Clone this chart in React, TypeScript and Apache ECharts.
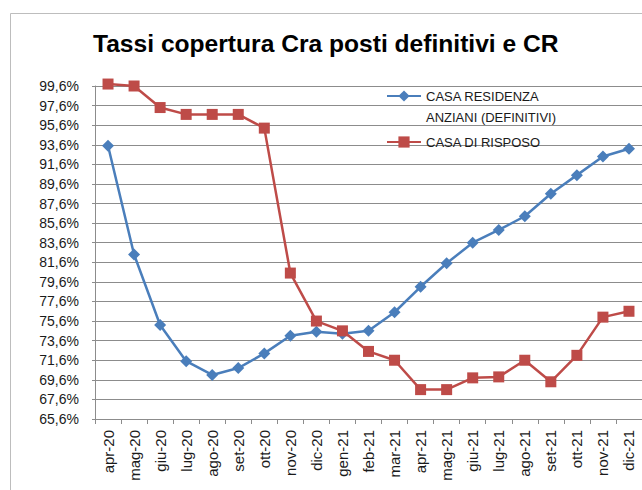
import React, { useEffect, useRef } from "react";
import * as echarts from "echarts";

const categories = [
  "apr-20", "mag-20", "giu-20", "lug-20", "ago-20", "set-20", "ott-20",
  "nov-20", "dic-20", "gen-21", "feb-21", "mar-21", "apr-21", "mag-21",
  "giu-21", "lug-21", "ago-21", "set-21", "ott-21", "nov-21", "dic-21",
];

const craValues = [
  93.5, 82.4, 75.2, 71.5, 70.1, 70.8, 72.3, 74.1, 74.5, 74.3, 74.6,
  76.5, 79.1, 81.5, 83.6, 84.9, 86.3, 88.6, 90.5, 92.4, 93.2,
];

const crValues = [
  99.8, 99.6, 97.4, 96.7, 96.7, 96.7, 95.3, 80.5, 75.6, 74.6, 72.5,
  71.6, 68.6, 68.6, 69.8, 69.9, 71.6, 69.4, 72.1, 76.0, 76.6,
];

const yMin = 65.6;
const yMax = 99.6;
const yStep = 2;

const seriesNames = ["CASA RESIDENZA\nANZIANI (DEFINITIVI)", "CASA DI RISPOSO"];
const titleText = "Tassi copertura Cra posti definitivi e CR";

const FONT = "Liberation Sans, Arial, sans-serif";

export default function App() {
  const ref = useRef<HTMLDivElement>(null);

  useEffect(() => {
    if (!ref.current) return;
    const chart = echarts.init(ref.current, null, { renderer: "svg" });
    const blue = "#4A7EBB";
    const red = "#BE4B48";
    const grid = "#8c8c8c";
    chart.setOption({
      animation: false,
      backgroundColor: "#ffffff",
      textStyle: { fontFamily: FONT },
      title: {
        text: titleText,
        left: 88,
        top: 26,
        textStyle: {
          fontFamily: FONT,
          fontSize: 24.6,
          fontWeight: "bold",
          color: "#000",
        },
      },
      graphic: [
        {
          type: "rect",
          shape: { x: 10.5, y: 13.5, width: 700, height: 600 },
          style: { fill: "none", stroke: "#bdbdbd", lineWidth: 1 },
          silent: true,
          z: -1,
        },
      ],
      legend: [
        {
          data: [seriesNames[0]],
          orient: "vertical",
          left: 386,
          top: 64.5,
          padding: 0,
          itemWidth: 34,
          itemHeight: 14,
          itemGap: 0,
          formatter: (name: string) => "\n" + name,
          textStyle: {
            fontFamily: FONT,
            fontSize: 13,
            color: "#1a1a1a",
            lineHeight: 21,
          },
        },
        {
          data: [seriesNames[1]],
          orient: "vertical",
          left: 386,
          top: 131.5,
          padding: 0,
          itemWidth: 34,
          itemHeight: 14,
          textStyle: {
            fontFamily: FONT,
            fontSize: 13,
            color: "#1a1a1a",
            lineHeight: 21,
          },
        },
      ],
      grid: { left: 95, top: 86, width: 550, height: 333, containLabel: false },
      xAxis: {
        type: "category",
        data: categories,
        boundaryGap: true,
        axisLine: { show: true, lineStyle: { color: grid, width: 1 } },
        axisTick: { show: true, length: 5, alignWithLabel: false, lineStyle: { color: grid } },
        axisLabel: {
          rotate: 90,
          margin: 11,
          fontFamily: FONT,
          fontSize: 15,
          color: "#1a1a1a",
          interval: 0,
        },
        splitLine: { show: false },
      },
      yAxis: {
        type: "value",
        min: yMin,
        max: yMax,
        interval: yStep,
        axisLine: { show: true, lineStyle: { color: grid, width: 1 } },
        axisTick: { show: true, length: 3, lineStyle: { color: grid } },
        axisLabel: {
          margin: 16,
          fontFamily: FONT,
          fontSize: 14,
          color: "#1a1a1a",
          formatter: (v: number) => v.toFixed(1).replace(".", ",") + "%",
        },
        splitLine: { show: true, lineStyle: { color: grid, width: 1 } },
      },
      series: [
        {
          name: seriesNames[0],
          type: "line",
          data: craValues,
          symbol: "diamond",
          symbolSize: 12,
          clip: false,
          lineStyle: { color: blue, width: 2.5 },
          itemStyle: { color: blue },
          z: 3,
        },
        {
          name: seriesNames[1],
          type: "line",
          data: crValues,
          symbol: "rect",
          symbolSize: 11,
          clip: false,
          lineStyle: { color: red, width: 2.5 },
          itemStyle: { color: red },
          z: 4,
        },
      ],
    });
    return () => chart.dispose();
  }, []);

  return (
    <div
      ref={ref}
      style={{ position: "fixed", left: 0, top: 0, width: 642, height: 490, background: "#fff" }}
    />
  );
}
